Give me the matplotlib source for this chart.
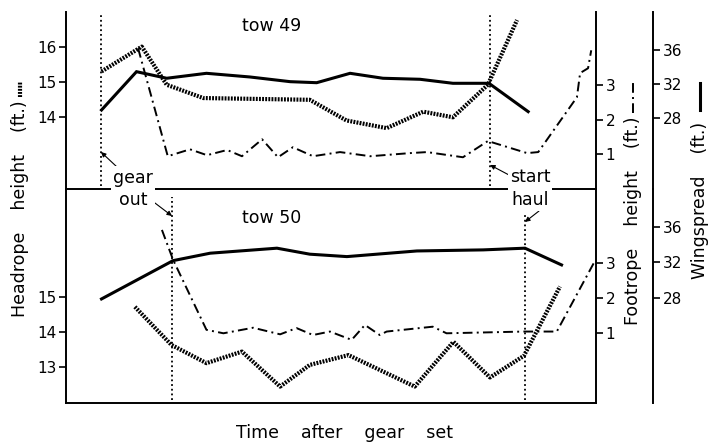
import matplotlib
matplotlib.use('Agg')
import matplotlib.pyplot as plt
from matplotlib.lines import Line2D

plt.rcParams['font.family'] = ['DejaVu Sans']

# ---------------- data (time in arbitrary units after gear set) ----------------
# tow 49
t49_wing = [6.7, 13.3, 19.0, 26.5, 34.7, 42.3, 47.3, 53.6, 59.8, 66.8, 73.0, 79.8, 87.2]
wing49 = [28.97, 33.46, 32.69, 33.27, 32.84, 32.29, 32.17, 33.27, 32.69, 32.57, 32.10, 32.10, 28.78]
t49_head = [6.7, 14.3, 19.0, 25.9, 46.0, 52.9, 60.5, 67.4, 73.0, 79.6, 85.1]
head49 = [15.29, 16.0, 14.91, 14.53, 14.48, 13.89, 13.67, 14.14, 13.98, 14.91, 16.76]
t49_foot = [13.6, 19.2, 23.4, 26.6, 30.4, 33.2, 37.0, 40.0, 42.8, 46.6, 51.7, 57.4,
            64.9, 68.1, 74.9, 79.6, 87.0, 89.1, 96.4, 97.0, 98.5, 99.1]
foot49 = [4.07, 0.94, 1.14, 0.97, 1.12, 0.94, 1.43, 0.91, 1.20, 0.94, 1.06, 0.94,
          1.03, 1.06, 0.91, 1.38, 1.03, 1.06, 2.65, 3.35, 3.49, 4.01]
gear_out49 = 6.6
start_haul49 = 80.0

# tow 50
t50_wing = [6.7, 20.2, 27.2, 39.8, 46.0, 53.0, 66.2, 78.7, 86.6, 93.5]
wing50 = [27.92, 32.20, 33.03, 33.59, 32.92, 32.65, 33.28, 33.40, 33.59, 31.72]
t50_head = [13.0, 19.9, 26.5, 33.2, 40.4, 46.0, 53.3, 65.8, 73.1, 80.0, 86.4, 93.2]
head50 = [14.71, 13.62, 13.10, 13.43, 12.43, 13.05, 13.33, 12.43, 13.71, 12.69, 13.31, 15.29]
t50_foot = [18.1, 20.2, 26.5, 29.7, 35.3, 40.4, 43.5, 46.6, 49.8, 53.9, 56.4, 59.2,
            60.5, 63.6, 69.2, 71.8, 86.4, 92.6, 99.6]
foot50 = [3.96, 3.10, 1.08, 0.98, 1.14, 0.95, 1.13, 0.93, 1.03, 0.79, 1.22, 0.93,
          1.03, 1.08, 1.17, 0.98, 1.03, 1.03, 3.01]
gear_out50 = 20.0
start_haul50 = 86.6

head_ticks49 = [14, 15, 16]
head_ticks50 = [13, 14, 15]
foot_ticks = [1, 2, 3]
wing_ticks = [28, 32, 36]

# ---------------- layout ----------------
W, H = 710, 443
fig = plt.figure(figsize=(W / 100, H / 100), dpi=100)


def rect(x0, y0, x1, y1):
    return [x0 / W, 1 - y1 / H, (x1 - x0) / W, (y1 - y0) / H]


HEAD_KW = dict(color='black', lw=3.0, linestyle=(0, (0.45, 0.3)), solid_capstyle='butt',
               dash_capstyle='butt')
FOOT_KW = dict(color='black', lw=1.4, linestyle=(0, (5, 2.2, 1, 2.2)), dash_capstyle='butt')
WING_KW = dict(color='black', lw=2.2, solid_joinstyle='miter')
EVENT_KW = dict(color='black', lw=1.3, linestyle=(0, (1, 1.6)))

TICK_KW = dict(direction='out', length=5, width=1.2, labelsize=11, pad=2)


def make_panel(r, head_lim, foot_lim, wing_lim, head_ticks, bottom_spine=True, top_spine=False):
    ax = fig.add_axes(r)
    axf = ax.twinx()
    axw = ax.twinx()
    ax.set_xlim(0, 100)
    ax.set_xticks([])
    ax.set_ylim(*head_lim)
    axf.set_ylim(*foot_lim)
    axw.set_ylim(*wing_lim)
    ax.set_yticks(head_ticks)
    axf.set_yticks(foot_ticks)
    axw.set_yticks(wing_ticks)
    for a in (ax, axf, axw):
        for s in a.spines.values():
            s.set_linewidth(1.4)
        a.patch.set_visible(False)
    ax.spines['top'].set_visible(top_spine)
    ax.spines['right'].set_visible(False)
    ax.spines['bottom'].set_visible(bottom_spine)
    for a in (axf, axw):
        a.spines['left'].set_visible(False)
        a.spines['top'].set_visible(False)
        a.spines['bottom'].set_visible(False)
    axw.spines['right'].set_position(('axes', (653 - 66) / 530))
    ax.tick_params(axis='y', **TICK_KW)
    axf.tick_params(axis='y', **TICK_KW)
    axw.tick_params(axis='y', **TICK_KW)
    return ax, axf, axw


ax49, ax49f, ax49w = make_panel(rect(66, 12, 596, 189), (11.93, 16.99), (-0.01, 5.12),
                                (19.72, 40.45), head_ticks49)
ax50, ax50f, ax50w = make_panel(rect(66, 189, 596, 403), (11.96, 18.08), (-1.03, 5.14),
                                (16.3, 40.2), head_ticks50)

# tow 49 series
ax49.plot(t49_head, head49, **HEAD_KW)
ax49f.plot(t49_foot, foot49, **FOOT_KW)
ax49w.plot(t49_wing, wing49, **WING_KW)
ax49.axvline(gear_out49, ymin=0.017, ymax=0.989, **EVENT_KW)
ax49.axvline(start_haul49, ymin=0.017, ymax=0.994, **EVENT_KW)

# tow 50 series
ax50.plot(t50_head, head50, **HEAD_KW)
ax50f.plot(t50_foot, foot50, **FOOT_KW)
ax50w.plot(t50_wing, wing50, **WING_KW)
ax50.axvline(gear_out50, ymin=0.014, ymax=0.963, **EVENT_KW)
ax50.axvline(start_haul50, ymin=0.014, ymax=0.879, **EVENT_KW)

FS = 12.5


def fx(x):
    return x / W


def fy(y):
    return 1 - y / H


fig.text(fx(272), fy(26), 'tow 49', ha='center', va='center', fontsize=FS)
fig.text(fx(272), fy(218), 'tow 50', ha='center', va='center', fontsize=FS)

fig.text(fx(133), fy(189), 'gear\nout', ha='center', va='center', fontsize=FS,
         linespacing=1.35, zorder=5,
         bbox=dict(facecolor='white', edgecolor='none', pad=1.5))
fig.text(fx(530), fy(188.5), 'start\nhaul', ha='center', va='center', fontsize=FS,
         linespacing=1.35, zorder=5,
         bbox=dict(facecolor='white', edgecolor='none', pad=1.5))

ARROW = dict(arrowstyle='-|>', lw=0.8, color='black', mutation_scale=7,
             shrinkA=0, shrinkB=0)
ax49.annotate('', xy=(gear_out49, 0.209), xycoords=ax49.get_xaxis_transform(),
              xytext=(117, H - 167), textcoords='figure pixels', arrowprops=ARROW)
ax49.annotate('', xy=(start_haul49, 0.136), xycoords=ax49.get_xaxis_transform(),
              xytext=(509, H - 175), textcoords='figure pixels', arrowprops=ARROW)
ax50.annotate('', xy=(gear_out50, 0.874), xycoords=ax50.get_xaxis_transform(),
              xytext=(151, H - 200), textcoords='figure pixels', arrowprops=ARROW)
ax50.annotate('', xy=(start_haul50, 0.846), xycoords=ax50.get_xaxis_transform(),
              xytext=(539, H - 211), textcoords='figure pixels', arrowprops=ARROW)

# axis labels
fig.text(fx(20), fy(209), 'Headrope    height    (ft.)', rotation=90, ha='center',
         va='center', fontsize=FS)
fig.text(fx(633), fy(221), 'Footrope    height    (ft.)', rotation=90, ha='center',
         va='center', fontsize=FS)
fig.text(fx(700), fy(200), 'Wingspread    (ft.)', rotation=90, ha='center',
         va='center', fontsize=FS)
fig.text(fx(344), fy(433), 'Time    after    gear    set', ha='center', va='center',
         fontsize=FS)

# line-style keys at the end of the axis labels
fig.add_artist(Line2D([fx(20), fx(20)], [fy(97), fy(82)], transform=fig.transFigure,
                      **HEAD_KW))
fig.add_artist(Line2D([fx(633), fx(633)], [fy(113), fy(80)], transform=fig.transFigure,
                      **FOOT_KW))
fig.add_artist(Line2D([fx(700), fx(700)], [fy(110), fy(83)], transform=fig.transFigure,
                      **WING_KW))

fig.savefig('out.png', dpi=100)
